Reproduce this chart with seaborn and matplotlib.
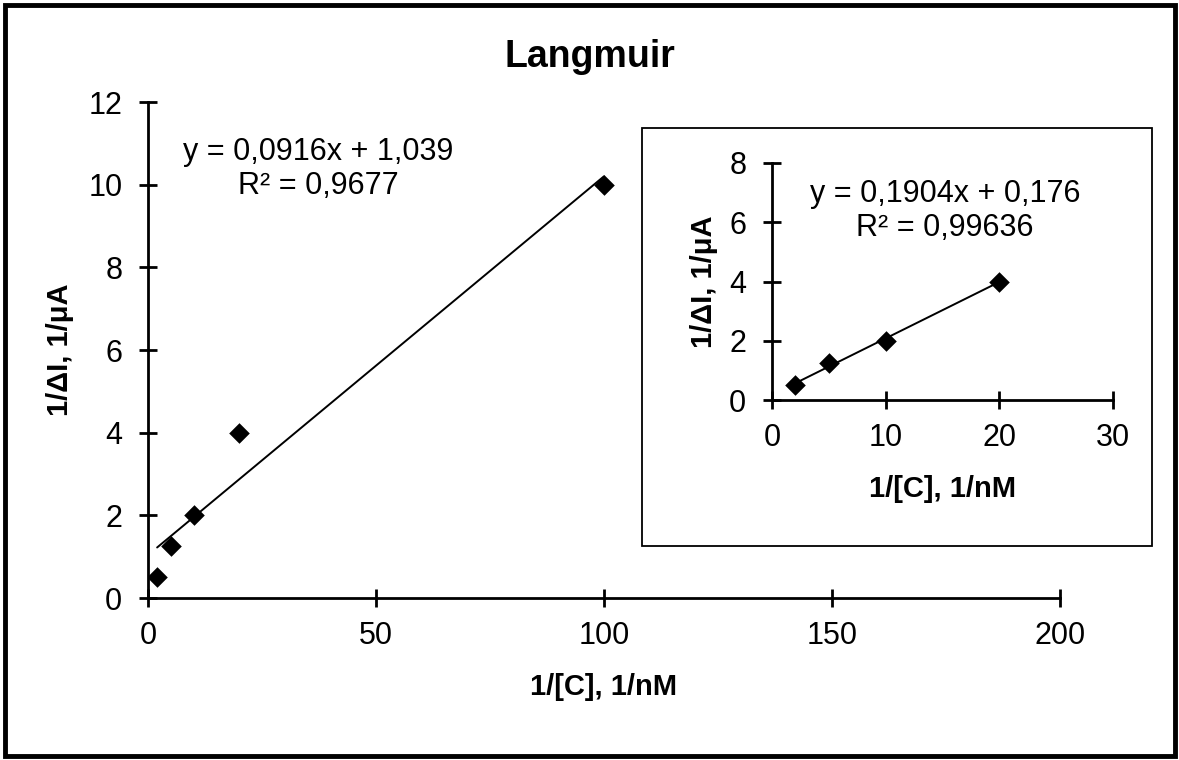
import matplotlib
matplotlib.use("Agg")
import matplotlib.pyplot as plt
import seaborn as sns
import numpy as np
from matplotlib.patches import Rectangle

# Data
x_main = [2, 5, 10, 20, 100]
y_main = [0.5, 1.25, 2, 4, 10]
x_inset = [2, 5, 10, 20]
y_inset = [0.5, 1.25, 2, 4]
title = "Langmuir"
xlabel = "1/[C], 1/nM"
ylabel = "1/ΔI, 1/μA"
eq_main = "y = 0,0916x + 1,039\nR² = 0,9677"
eq_inset = "y = 0,1904x + 0,176\nR² = 0,99636"

sns.set_style("ticks")
plt.rcParams['font.family'] = ['Liberation Sans', 'DejaVu Sans']
plt.rcParams['text.color'] = 'black'
plt.rcParams['axes.labelcolor'] = 'black'
plt.rcParams['xtick.color'] = 'black'
plt.rcParams['ytick.color'] = 'black'

W, H = 1179, 760
fig = plt.figure(figsize=(W / 100, H / 100), dpi=100)

def fx(px):
    return px / W

def fy(py):
    return 1 - py / H

TICK_FS = 22
LAB_FS = 21
EQ_FS = 22

def style_axes(ax, xlim, ylim, xticks, yticks):
    ax.set_xlim(*xlim)
    ax.set_ylim(*ylim)
    ax.set_xticks(xticks)
    ax.set_yticks(yticks)
    for s in ['top', 'right']:
        ax.spines[s].set_visible(False)
    for s in ['left', 'bottom']:
        ax.spines[s].set_linewidth(2)
        ax.spines[s].set_color('black')
    ax.tick_params(direction='inout', length=13, width=2, colors='black',
                   labelsize=TICK_FS, labelcolor='black')
    ax.tick_params(axis='x', pad=10)
    ax.tick_params(axis='y', pad=12)
    ax.set_facecolor('none')

SCAT = {'s': 110, 'linewidths': 0, 'zorder': 4, 'alpha': 1}
LINE = {'linewidth': 1.4, 'color': 'black'}

# Main axes
ax = fig.add_axes([fx(148), fy(598), fx(1060) - fx(148), fy(102) - fy(598)])
sns.regplot(x=x_main, y=y_main, ax=ax, ci=None, truncate=True, marker='D',
            color='black', scatter_kws=SCAT, line_kws=LINE)
style_axes(ax, (0, 200), (0, 12), [0, 50, 100, 150, 200], [0, 2, 4, 6, 8, 10, 12])
ax.set_xlabel(xlabel, fontsize=LAB_FS, fontweight='bold', labelpad=16)
ax.set_ylabel(ylabel, fontsize=LAB_FS, fontweight='bold', labelpad=10)
ax.text(37.3, 10.38, eq_main, ha='center', va='center', fontsize=EQ_FS,
        linespacing=1.2)

# Title
fig.text(0.5, fy(57), title, ha='center', va='center', fontsize=27, fontweight='bold')

# Inset box
fig.patches.append(Rectangle((fx(642), fy(546)), fx(1152) - fx(642), fy(128) - fy(546),
                             transform=fig.transFigure, fill=True, facecolor='white',
                             edgecolor='black', linewidth=1.3, zorder=2))

# Inset axes
ax2 = fig.add_axes([fx(772), fy(400), fx(1113) - fx(772), fy(163) - fy(400)])
ax2.set_zorder(3)
sns.regplot(x=x_inset, y=y_inset, ax=ax2, ci=None, truncate=True, marker='D',
            color='black', scatter_kws=SCAT, line_kws=LINE)
style_axes(ax2, (0, 30), (0, 8), [0, 10, 20, 30], [0, 2, 4, 6, 8])
ax2.set_xlabel(xlabel, fontsize=LAB_FS, fontweight='bold', labelpad=16)
ax2.set_ylabel(ylabel, fontsize=LAB_FS, fontweight='bold', labelpad=8)
ax2.text(15.2, 6.38, eq_inset, ha='center', va='center', fontsize=EQ_FS,
         linespacing=1.2)

# Outer border
fig.patches.append(Rectangle((fx(4.5), fy(756)), fx(1175) - fx(4.5), fy(4.5) - fy(756),
                             transform=fig.transFigure, fill=False,
                             edgecolor='black', linewidth=3.5, zorder=5))

fig.savefig("out.png", dpi=100, facecolor='white')
